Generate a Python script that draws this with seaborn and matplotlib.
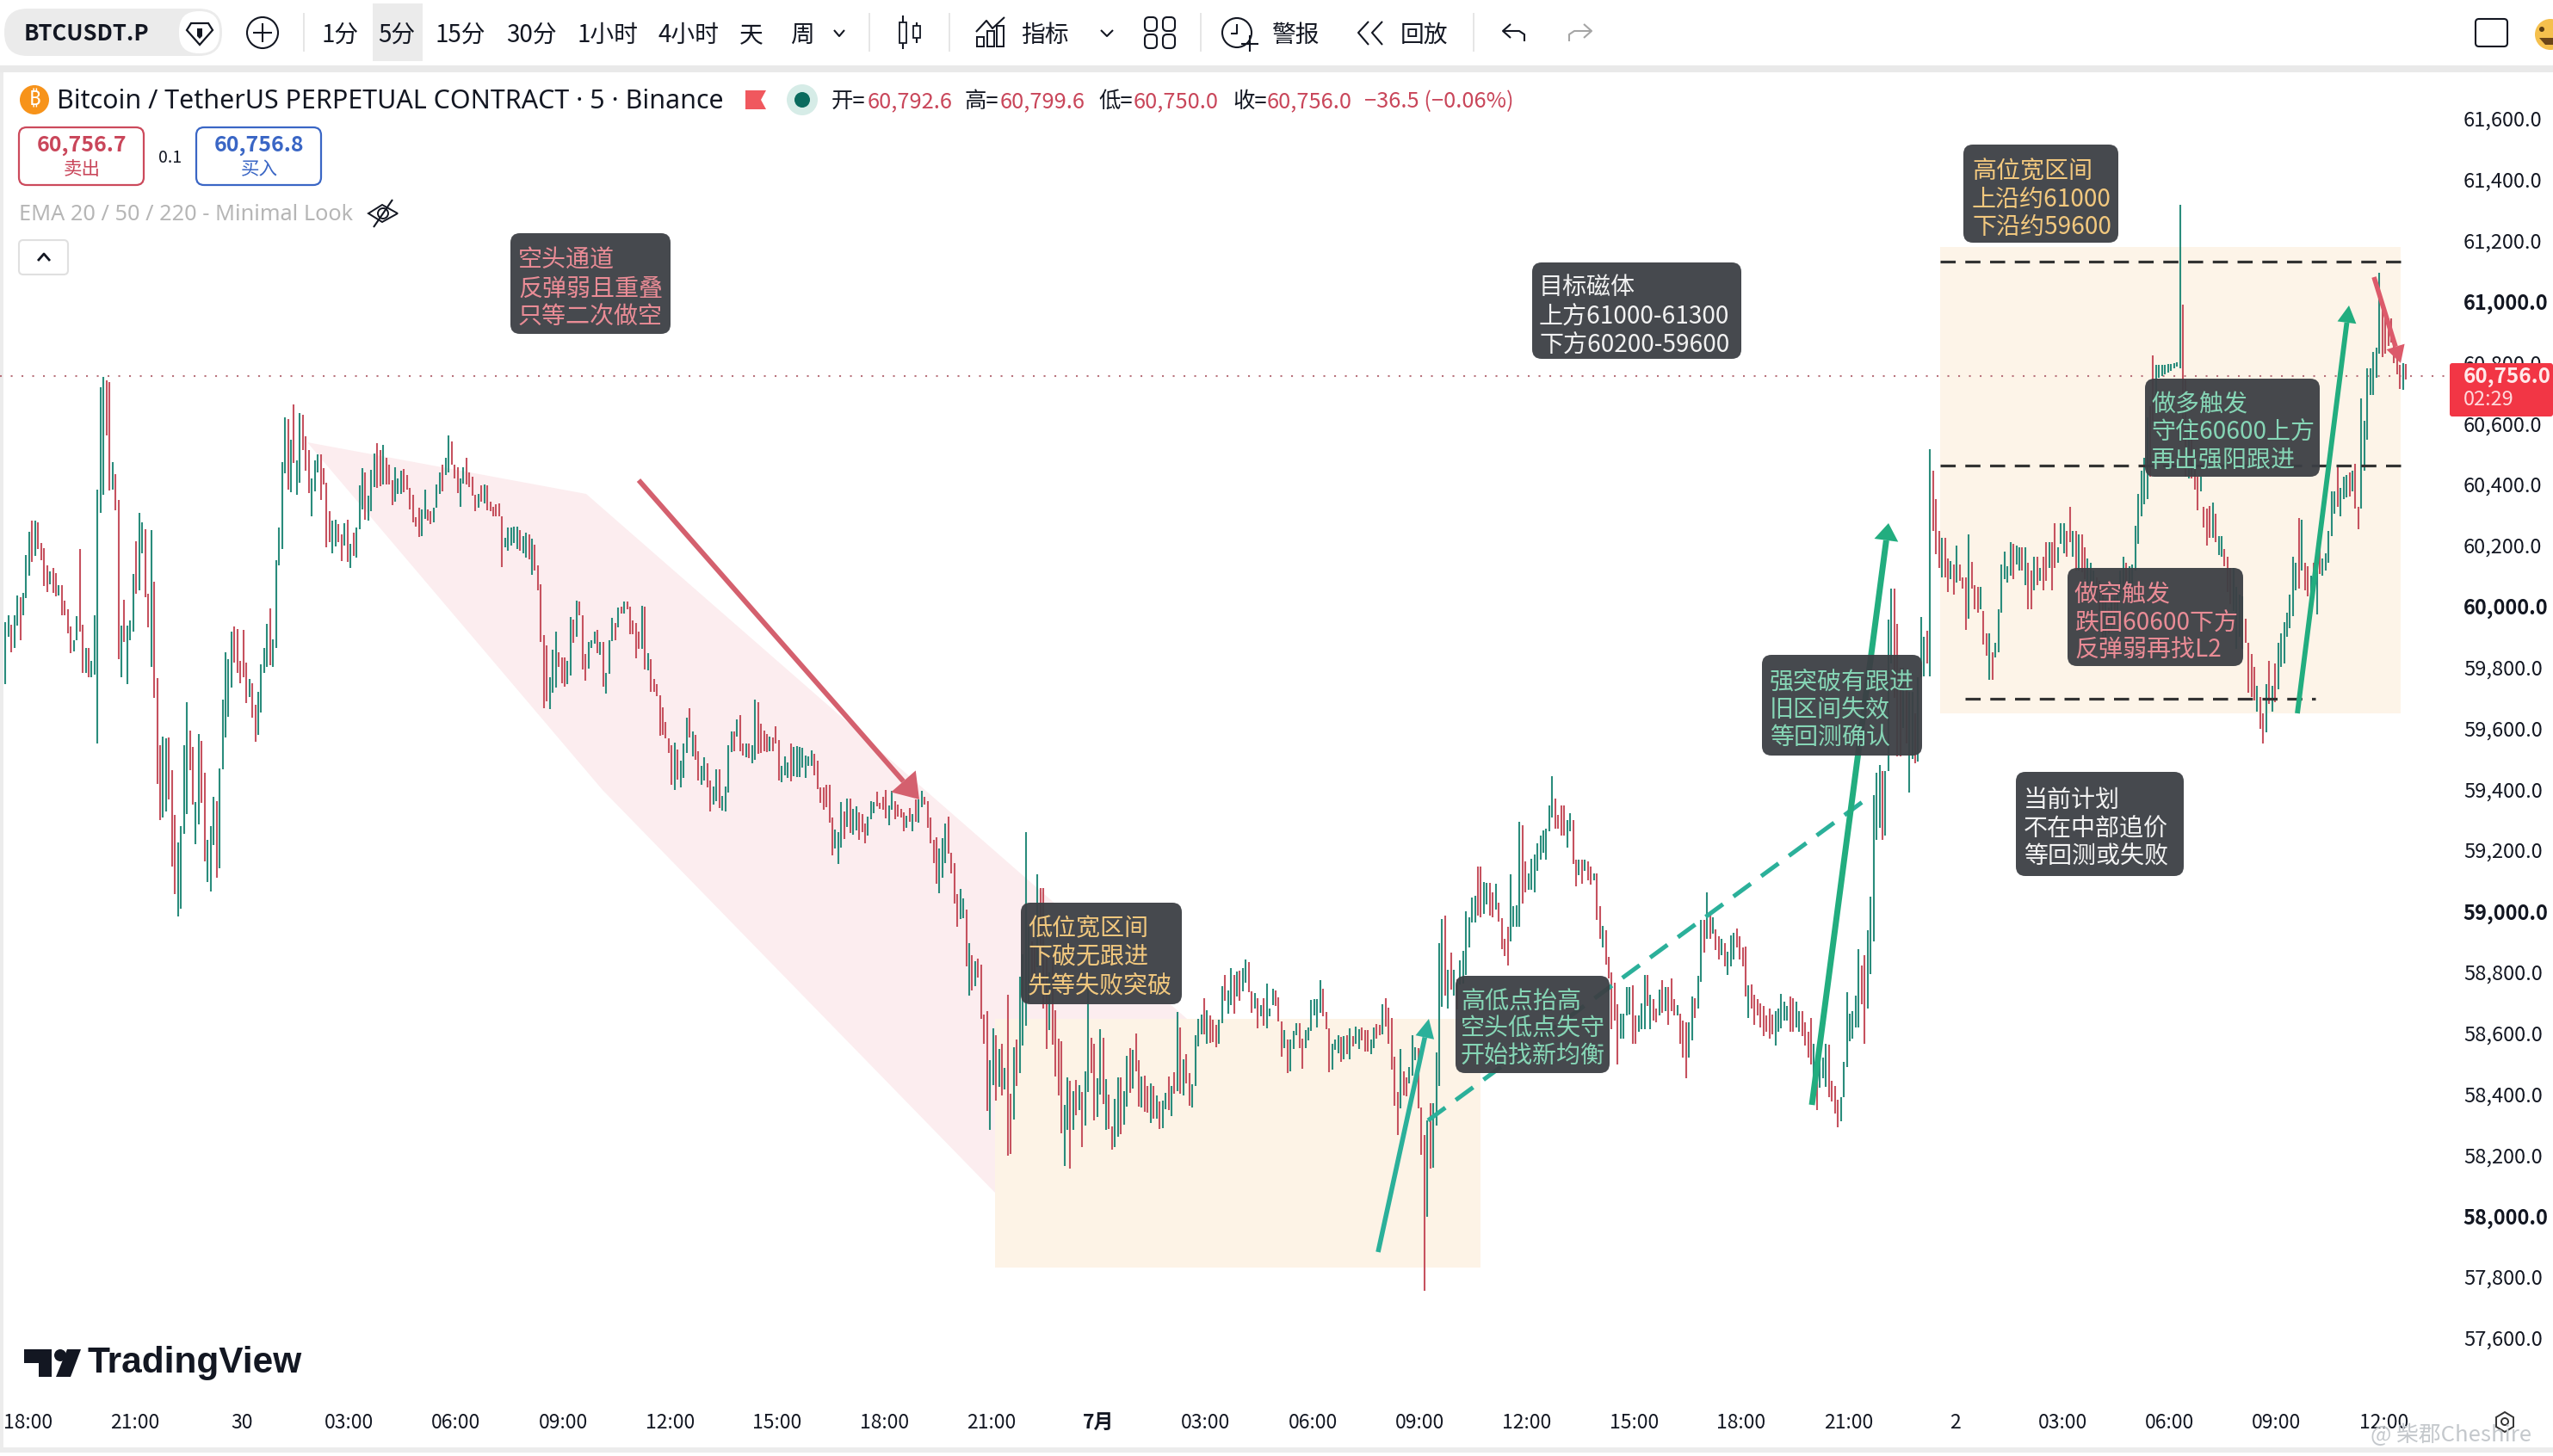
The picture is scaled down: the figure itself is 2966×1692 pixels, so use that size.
import numpy as np
import pandas as pd
import seaborn as sns
import matplotlib
matplotlib.use("Agg")
import matplotlib.pyplot as plt
from matplotlib.patches import FancyBboxPatch, Rectangle, Polygon, Circle
from matplotlib.transforms import Affine2D

highs = [
59947,59972,59941,59972,60035,60029,60044,60168,60246,60281,
60281,60277,60208,60190,60136,60115,60126,60108,60069,60069,
60019,59991,59935,59890,59969,60189,59941,59865,59863,59821,
59972,60382,60718,60754,60741,60735,60474,60435,60350,59937,
60023,59937,59954,60107,60214,60306,60275,60253,60042,60250,
60080,59764,59544,59572,59567,59569,59462,59317,59226,59279,
59544,59685,59592,59540,59357,59582,59559,59453,59235,59279,
59374,59361,59468,59693,59850,59827,59918,59935,59925,59821,
59922,59815,59761,59748,59676,59720,59811,59865,59943,59994,
59893,60151,60260,60473,60619,60615,60546,60663,60479,60634,
60630,60558,60514,60420,60479,60498,60498,60454,60407,60313,
60281,60284,60271,60237,60272,60285,60206,60243,60260,60398,
60454,60441,60363,60449,60502,60537,60514,60529,60489,60466,
60413,60457,60420,60445,60451,60432,60388,60366,60294,60325,
60319,60384,60319,60313,60325,60401,60441,60466,60489,60561,
60542,60466,60457,60420,60457,60489,60439,60426,60366,60369,
60398,60401,60398,60344,60328,60335,60338,60297,60224,60258,
60260,60262,60262,60250,60231,60243,60237,60222,60202,60136,
60073,59907,59872,59768,59859,59916,59849,59834,59834,59821,
59966,59957,60019,60017,59972,59843,59884,59890,59918,59922,
59884,59883,59783,59888,59962,59945,59996,60000,60016,60016,
60000,59953,59945,59916,60002,60000,59848,59827,59762,59746,
59708,59670,59621,59567,59546,59553,59530,59495,59551,59635,
59667,59589,59578,59524,59478,59505,59486,59429,59408,59465,
59465,59378,59409,59546,59589,59589,59630,59643,59551,59551,
59551,59546,59695,59686,59616,59594,59580,59573,59570,59608,
59562,59476,59508,59489,59551,59538,59543,59538,59535,59510,
59508,59528,59517,59494,59405,59405,59414,59414,59308,59267,
59260,59357,59327,59371,59371,59335,59344,59324,59319,59287,
59311,59362,59357,59391,59355,59376,59398,59348,59395,59362,
59351,59337,59324,59314,59338,59319,59368,59368,59395,59376,
59362,59308,59233,59243,59206,59240,59287,59310,59193,59157,
59056,59074,59041,59006,58895,58856,58837,58844,58825,58660,
58672,58512,58616,58592,58548,58564,58486,58726,58402,58554,
58578,58785,58860,59260,58950,58900,58880,59122,59075,59075,
58850,58800,58860,58675,58583,58573,58364,58456,58443,58411,
58446,58430,58407,58474,58745,58585,58564,58453,58613,58585,
58449,58399,58293,58385,58456,58456,58409,58526,58552,58545,
58599,58512,58458,58460,58427,58435,58427,58396,58376,58380,
58404,58458,58427,58473,58669,58620,58515,58531,58470,58432,
58592,58647,58661,58716,58675,58658,58644,58628,58644,58754,
58790,58740,58813,58790,58801,58804,58813,58843,58832,58738,
58731,58714,58691,58714,58763,58681,58745,58740,58717,58637,
58609,58578,58578,58606,58632,58632,58583,58611,58620,58708,
58712,58712,58773,58747,58669,58617,58564,58578,58592,58587,
58590,58594,58616,58590,58622,58614,58620,58609,58609,58580,
58618,58630,58627,58696,58714,58684,58649,58523,58406,58548,
58474,58456,58489,58594,58554,58550,58357,58267,58315,58369,
58369,58536,58895,58973,58985,58807,58863,58807,58776,58839,
58870,59000,58979,59044,59051,59147,59147,59096,59094,59094,
59061,59091,59028,58977,58910,58950,59122,59016,59019,59293,
59281,59163,59125,59173,59186,59224,59247,59265,59270,59346,
59443,59369,59316,59346,59346,59300,59323,59300,59170,59170,
59170,59170,59163,59147,59125,59125,59017,58953,58938,58849,
58800,58765,58696,58665,58665,58750,58750,58757,58658,58658,
58699,58791,58791,58727,58711,58681,58742,58773,58750,58750,
58780,58711,58693,58665,58642,58635,58635,58719,58715,58788,
58971,58971,59063,58994,58979,58940,58917,58910,58895,58867,
58922,58928,58944,58917,58880,58883,58757,58760,58727,58711,
58699,58688,58658,58681,58662,58673,58681,58730,58704,58689,
58719,58715,58704,58673,58673,58635,58604,58650,58566,58528,
58520,58520,58566,58561,58443,58428,58382,58390,58505,58734,
58665,58673,58722,58876,58821,58857,58938,59048,59382,59453,
59479,59461,59461,59958,60058,60058,59943,59800,59800,59750,
59721,59721,59650,59767,59966,59900,59920,60517,60444,60352,
60248,60224,60224,60156,60150,60138,60199,60138,60095,60095,
60236,60146,60071,60064,60064,59985,59911,59911,59850,59881,
59991,60138,60181,60132,60211,60205,60199,60193,60193,60193,
60144,60119,60162,60162,60126,60162,60211,60211,60211,60273,
60193,60273,60273,60248,60328,60248,60248,60236,60236,60193,
60156,60144,60119,60095,60083,60058,60022,59997,60022,60034,
60071,60119,60162,60144,60132,60137,60266,60370,60444,60487,
60621,60658,60823,60793,60793,60793,60793,60795,60796,60799,
60801,61319,60991,60744,60585,60572,60462,60426,60426,60328,
60321,60330,60340,60303,60230,60230,60187,60162,60126,60126,
60064,60040,60034,59960,59881,59844,59801,59740,59703,59648,
59746,59820,59740,59813,59881,59911,59948,59979,60040,60162,
60144,60291,60285,60144,60132,60100,60144,60119,60205,60156,
60175,60248,60377,60377,60462,60389,60426,60432,60440,60444,
60468,60328,60683,60609,60780,60780,60836,60850,61096,60989,
60952,60946,60946,60866,60842,60793,60799,60795]

lows = [
59746,59899,59850,59865,59937,59890,59972,60027,60102,60146,
60165,60187,60151,60067,60046,60073,60044,60033,60035,59972,
59970,59912,59846,59853,59890,59918,59781,59783,59767,59767,
59777,59550,60306,60366,60562,60379,60382,60316,59827,59768,
59884,59746,59890,59916,60042,60054,60174,60029,59931,59802,
59699,59418,59298,59307,59327,59368,59147,59056,58983,59008,
59254,59320,59462,59349,59219,59286,59355,59164,59097,59065,
59216,59109,59141,59466,59569,59639,59733,59815,59783,59749,
59768,59683,59702,59635,59557,59578,59651,59783,59802,59806,
59802,59865,60134,60189,60436,60382,60376,60470,60367,60407,
60514,60445,60373,60297,60378,60439,60350,60401,60195,60212,
60174,60197,60212,60149,60199,60146,60126,60165,60161,60252,
60319,60285,60281,60313,60391,60388,60394,60401,60401,60401,
60331,60344,60369,60369,60376,60382,60319,60275,60262,60228,
60231,60287,60281,60271,60275,60325,60369,60378,60432,60439,
60464,60420,60373,60328,60403,60401,60391,60363,60313,60325,
60344,60338,60315,60313,60297,60297,60296,60130,60193,60183,
60199,60209,60187,60184,60174,60161,60155,60105,60117,60054,
59884,59666,59689,59664,59718,59733,59802,59748,59736,59746,
59773,59882,59899,59970,59793,59756,59796,59865,59878,59846,
59840,59737,59715,59780,59886,59888,59931,59978,59978,59992,
59908,59908,59830,59862,59862,59794,59791,59721,59721,59706,
59575,59578,59567,59519,59416,59397,59432,59405,59438,59519,
59570,59508,59497,59429,59416,59430,59405,59328,59349,59362,
59338,59330,59328,59389,59522,59526,59573,59524,59510,59506,
59503,59484,59497,59516,59519,59524,59522,59524,59524,59549,
59430,59422,59446,59438,59427,59443,59441,59441,59470,59438,
59476,59478,59445,59400,59355,59333,59341,59290,59184,59206,
59154,59208,59236,59276,59257,59252,59265,59233,59260,59222,
59247,59303,59322,59344,59337,59333,59305,59281,59333,59303,
59311,59308,59262,59273,59292,59262,59294,59290,59341,59351,
59273,59222,59157,59090,59060,59110,59157,59190,59125,59026,
58950,58975,58977,58818,58722,58741,58754,58782,58646,58564,
58346,58282,58430,58380,58423,58397,58415,58197,58204,58317,
58427,58470,58559,58623,58700,58760,58780,58816,58840,58680,
58547,58611,58561,58458,58396,58270,58164,58282,58157,58282,
58330,58347,58225,58296,58407,58470,58315,58326,58399,58366,
58284,58286,58218,58225,58261,58269,58300,58359,58404,58418,
58475,58360,58355,58343,58338,58305,58319,58319,58286,58289,
58350,58349,58329,58402,58409,58402,58396,58435,58362,58355,
58427,58557,58597,58597,58564,58569,58570,58555,58564,58632,
58707,58663,58691,58665,58719,58707,58738,58766,58733,58667,
58680,58617,58656,58625,58617,58656,58691,58688,58637,58522,
58550,58468,58476,58547,58594,58550,58482,58552,58576,58606,
58658,58620,58667,58656,58614,58473,58479,58545,58534,58506,
58514,58531,58514,58557,58566,58547,58576,58540,58540,58531,
58550,58583,58592,58595,58622,58566,58479,58363,58265,58354,
58396,58393,58434,58460,58512,58352,58202,57756,57998,58157,
58159,58296,58427,58686,58722,58682,58743,58722,58677,58760,
58762,58790,58880,58963,58963,58985,58980,58990,59021,58985,
58980,59006,58965,58875,58854,58821,58900,58950,58950,58949,
59025,59063,59071,59071,59063,59132,59170,59193,59170,59262,
59308,59270,59270,59247,59247,59209,59262,59155,59082,59117,
59091,59132,59101,59086,59101,58972,58910,58880,58826,58780,
58612,58640,58497,58581,58581,58658,58660,58566,58566,58604,
58612,58612,58689,58612,58642,58635,58658,58666,58673,58627,
58673,58658,58658,58566,58520,58451,58520,58577,58650,58681,
58768,58864,58910,58910,58925,58872,58842,58857,58819,58791,
58819,58842,58880,58842,58819,58719,58650,58681,58627,58658,
58620,58589,58604,58581,58597,58558,58604,58617,58642,58642,
58604,58604,58620,58604,58589,58558,58520,58497,58421,58347,
58421,58451,58424,58390,58375,58337,58291,58311,58390,58490,
58574,58581,58620,58620,58696,58566,58681,58795,58902,59235,
59275,59235,59247,59461,59813,59700,59507,59507,59600,59550,
59388,59500,59484,59492,59767,59770,59813,59771,60248,60171,
60126,60095,60095,60046,60089,60040,60077,60083,60058,59924,
59960,60058,59991,59979,59991,59875,59838,59758,59758,59832,
59850,59979,60089,60077,60101,60089,60138,60119,60119,60071,
59991,59991,60052,60071,60083,60052,60083,60126,60052,60126,
60144,60205,60175,60162,60211,60162,60119,60119,60113,60089,
60071,60058,60071,60022,59985,59887,59899,59911,59924,59948,
59985,60034,60046,60058,60071,60058,60119,60205,60297,60334,
60352,60425,60609,60683,60750,60756,60762,60768,60774,60780,
60787,60780,60585,60426,60419,60419,60383,60315,60377,60260,
60199,60225,60224,60211,60168,60162,60132,60046,60009,59985,
59862,59900,59862,59881,59716,59703,59691,59654,59599,59550,
59587,59679,59654,59685,59728,59801,59813,59899,59930,59967,
60052,60058,60119,60052,60034,60040,60052,59973,60107,60101,
60119,60144,60230,60303,60328,60297,60352,60358,60360,60377,
60322,60254,60322,60444,60548,60695,60695,60750,60829,60817,
60829,60854,60866,60799,60762,60713,60710,60744]

sides = (
"ggrggrgggr" "grrrrgrrgr" "rrrggrrgrg" "ggggrrgrrg" "rgggrggrrg" "rrrggrrrgg" "ggrrggrrgg" "grgggggrrr"
"rrgrrggggr" "gggggrgrgg" "rrrgggrrrr" "ggrrgrgrgg" "grgggrrgrr" "rgggrrrrrr" "ggrrgggrgg" "rrrggrrrrg"
"rgrrrrrrgg" "gggrggrgrr" "rrrgggrrrg" "grgrrrgggr" "grgggrgrgr" "rrrrgrgrrr" "rrrrrgrggg" "rgrrggrrgg"
"rggggrgrrg" "rggrrrrgrr" "rgggrggggg" "ggrrrrrrrg" "ggrgrggrrr" "gggrrrrggr" "rrrgrgrggr" "rrrrgggrrr"
"rggrgrgrrr" "rggrgrgrrg" "rggggrrgrr" "rgrrrrggrg" "rgrggrrggr" "grrggrggrg" "rrgrrgrgrg" "grgrgrgrrg"
"gggrgrrrgg" "rggrgrggrr" "grgrgggrrr" "grgggrrggg" "gggrrrgggr" "grgrggrrrg" "grrgrrrrrg" "rrgggrrrgr"
"ggggrgrgrg" "gggggrrggr" "rgrrrrgggg" "rrgggggggg" "grrrrggrrg" "rgrrgrrgrr" "rrrggggrrg" "ggrgrrgrgr"
"rrgrrrggrg" "grgrgrrgrg" "ggrrrrgrrr" "rrrrrggggg" "rrggrrrrgr" "gggrrrrggg" "ggggrrgggg" "grgggrrrgr"
"ggrgggrgrr" "rgrrgrgrrr" "grrrgrrgrg" "gggggrggrg" "rrgrgrrgrr" "gggrrgrgrr" "gggrrrgrgr" "gggrgggggg"
"grrggggggg" "ggrrgrrrgr" "rrgrggrrrg" "gggrrrrgrr" "grgrgggggg" "grgrrgrgrg" "ggggrgggrg" "rrgggggggr"
"rrrrrrgr")

price_ticks = [57600 + 200 * i for i in range(21)]
bold_prices = [58000, 59000, 60000, 61000]
time_labels = ["18:00", "21:00", "30", "03:00", "06:00", "09:00", "12:00", "15:00", "18:00", "21:00", "7月",
               "03:00", "06:00", "09:00", "12:00", "15:00", "18:00", "21:00", "2", "03:00", "06:00", "09:00", "12:00"]
last_price = 60756.0

UP, DOWN = "#2a8c7c", "#c6525f"
CJK = ["Noto Sans CJK SC", "DejaVu Sans"]

sns.set_theme(style="white")
plt.rcParams["font.family"] = CJK

n = min(len(highs), len(lows), len(sides))
df = pd.DataFrame({"k": np.arange(n), "high": highs[:n], "low": lows[:n], "side": list(sides[:n])})
long = df.melt(id_vars=["k", "side"], value_vars=["high", "low"], value_name="price")

W, H = 2966, 1692
fig, ax = plt.subplots(figsize=(W / 100, H / 100), dpi=100)
ax.set_position([0, 0, 1, 1])
sns.lineplot(data=long, x="k", y="price", hue="side", units="k", estimator=None, sort=False,
             palette={"g": UP, "r": DOWN}, lw=1.5, legend=False, ax=ax, zorder=3, solid_capstyle="butt")

tr = Affine2D().scale(1, -1).translate(0, H)  # page pixels, for the interface around the chart


def rect(x0, y0, x1, y1, fc, z=1, ec="none", lw=0):
    ax.add_patch(Rectangle((x0, y0), x1 - x0, y1 - y0, fc=fc, ec=ec, lw=lw, transform=tr, zorder=z, clip_on=False))


def rbox(x0, y0, x1, y1, fc, ec="none", lw=0, r=8, z=5, alpha=1):
    ax.add_patch(FancyBboxPatch((x0 + r, y0 + r), x1 - x0 - 2 * r, y1 - y0 - 2 * r, boxstyle=f"round,pad={r},rounding_size={r}",
                                fc=fc, ec=ec, lw=lw, transform=tr, zorder=z, alpha=alpha, clip_on=False))


def txt(x, y, s, size=17, color="#131722", ha="left", weight="normal", z=8, family=CJK):
    ax.text(x, y, s, fontsize=size, color=color, ha=ha, va="center", fontweight=weight, transform=tr, zorder=z,
            family=family)


def line(xs, ys, color="#131722", lw=1.5, z=8, ls="-", cap="butt", **kw):
    ax.plot(xs, ys, color=color, lw=lw, transform=tr, zorder=z, ls=ls, solid_capstyle=cap, clip_on=False, **kw)


def poly(pts, fc, z=1, ec="none", lw=0):
    ax.add_patch(Polygon(pts, closed=True, fc=fc, ec=ec, lw=lw, transform=tr, zorder=z, clip_on=False))


def circ(x, y, r, fc="none", ec="none", lw=0, z=8):
    ax.add_patch(Circle((x, y), r, fc=fc, ec=ec, lw=lw, transform=tr, zorder=z, clip_on=False))


def arrow(x0, y0, x1, y1, color, lw=4.0, hw=11, hl=20, z=4):
    d = np.array([x1 - x0, y1 - y0], float)
    d /= np.hypot(*d)
    p = np.array([-d[1], d[0]])
    tip = np.array([x1, y1], float)
    base = tip - d * hl
    line([x0, base[0]], [y0, base[1]], color, lw, z)
    poly([tip, base + p * hw, base - p * hw], color, z)


def note(x0, y0, x1, y1, lines, color, tx, ys):
    rbox(x0, y0, x1, y1, "#3c3f44", r=11, z=5, alpha=0.95)
    for y, s in zip(ys, lines):
        txt(tx, y + 2.5, s, 20.2, color, z=6)


# zones
poly([(357, 514), (681, 574), (1379, 1184), (1156, 1386), (700, 918)], "#fcedef", z=1)
rect(1156, 1184, 1720, 1473, "#fdf3e6", z=1.5)
rect(2254, 287, 2789, 829, "#fdf4e8", z=1.5)

# level lines
for y, x0, x1 in [(304, 2254, 2789), (541, 2254, 2789), (812, 2283, 2690)]:
    line([x0, x1], [y, y], "#333333", 2.3, z=4, ls=(0, (5.5, 3.5)))
ax.axhline(last_price, color="#b9737c", lw=1.5, ls=(0, (1, 5)), zorder=2)

# arrows
arrow(742, 558, 1068, 929, "#d4606e", lw=4.2, hw=19, hl=28)
arrow(1601, 1455, 1660, 1184, "#2bb09a", lw=4.0, hw=11, hl=22)
line([1659, 2165], [1302, 931], "#2bb09a", 3.6, z=4, ls=(0, (5, 3)))
arrow(2105, 1284, 2194, 608, "#22ad7f", lw=5.0, hw=14, hl=20)
arrow(2669, 829, 2729, 355, "#22ad7f", lw=4.2, hw=11, hl=20)
arrow(2758, 322, 2789, 422, "#dc5a6a", lw=4.0, hw=11, hl=20)

# notes
PINK, GOLD, MINT, PALE = "#ea8c96", "#f2c87e", "#86d6b6", "#f2f2f2"
note(593, 271, 779, 388, ["空头通道", "反弹弱且重叠", "只等二次做空"], PINK, 602, [299, 333, 365])
note(1780, 305, 2023, 417, ["目标磁体", "上方61000-61300", "下方60200-59600"], PALE, 1788, [331, 365, 398])
note(2281, 168, 2461, 282, ["高位宽区间", "上沿约61000", "下沿约59600"], GOLD, 2291, [197, 229, 261])
note(1186, 1049, 1373, 1167, ["低位宽区间", "下破无跟进", "先等失败突破"], GOLD, 1194, [1077, 1110, 1143])
note(1691, 1134, 1870, 1247, ["高低点抬高", "空头低点失守", "开始找新均衡"], MINT, 1697, [1162, 1193, 1225])
note(2047, 761, 2233, 878, ["强突破有跟进", "旧区间失效", "等回测确认"], MINT, 2056, [790, 823, 855])
note(2492, 440, 2695, 554, ["做多触发", "守住60600上方", "再出强阳跟进"], MINT, 2499, [468, 499, 532])
note(2402, 660, 2606, 774, ["做空触发", "跌回60600下方", "反弹弱再找L2"], PINK, 2410, [689, 721, 752])
note(2342, 897, 2537, 1018, ["当前计划", "不在中部追价", "等回测或失败"], PALE, 2351, [927, 961, 993])

# page frame
rect(0, 76, W, 84, "#e9e9e9", z=0.5)
rect(0, 84, 4, 1682, "#ececec", z=0.5)
rect(0, 1682, W, 1688, "#ececec", z=0.5)

# toolbar
rbox(5, 10, 258, 65, "#ebebeb", r=27, z=7)
rbox(208, 13, 255, 62, "#ffffff", r=23, z=7.5)
txt(28, 39, "BTCUSDT.P", 18.5, weight="bold")
poly([(222, 27), (242, 27), (247, 35), (232, 52), (217, 35)], "none", z=8, ec="#131722", lw=1.6)
poly([(229, 33), (235, 33), (235, 42), (232, 45), (229, 42)], "#131722", z=8)
circ(305, 38, 18, ec="#131722", lw=1.5)
line([294, 316], [38, 38]); line([305, 305], [27, 49])
rect(352, 15, 354, 60, "#e6e6e6", z=2)
rect(433, 4, 491, 71, "#ebebeb", z=2)
for cx, s in [(395, "1分"), (461, "5分"), (535, "15分"), (617, "30分"), (706, "1小时"), (800, "4小时"), (873, "天"), (932, "周")]:
    txt(cx, 41, s, 20, ha="center")
line([969, 975, 981], [35, 42, 35])
for x in [1010, 1103, 1395, 1712]:
    rect(x - 1, 15, x + 1, 60, "#e6e6e6", z=2)
line([1049, 1049], [18, 57]); rect(1045, 26, 1053, 50, "white", z=8, ec="#131722", lw=1.3)
line([1065, 1065], [26, 50]); rect(1061, 30, 1069, 44, "white", z=8, ec="#131722", lw=1.3)
line([1134, 1146, 1153, 1167], [37, 24, 33, 20])
for x0, y0 in [(1135, 43), (1147, 36), (1158, 30)]:
    rect(x0, y0, x0 + 8, 54, "none", z=8, ec="#131722", lw=1.4)
txt(1186, 41, "指标", 20)
line([1279, 1286, 1293], [35, 42, 35])
for cx, cy in [(1337, 28), (1358, 28), (1337, 48), (1358, 48)]:
    rbox(cx - 7, cy - 8, cx + 7, cy + 8, "none", ec="#131722", lw=1.5, r=5, z=8)
circ(1437, 38, 17, ec="#131722", lw=1.5)
line([1437, 1437, 1430], [28, 39, 39]); line([1442, 1462], [51, 51]); line([1452, 1452], [41, 60])
txt(1477, 41, "警报", 20)
line([1590, 1578, 1590], [25, 38, 52]); line([1606, 1594, 1606], [25, 38, 52])
txt(1627, 41, "回放", 20)
line([1771, 1771, 1765, 1747], [48, 40, 36, 36]); line([1755, 1746, 1755], [28, 36, 44])
line([1823, 1823, 1829, 1848], [48, 40, 36, 36], "#a5a5a5"); line([1840, 1849, 1840], [28, 36, 44], "#a5a5a5")
rbox(2876, 22, 2913, 54, "none", ec="#131722", lw=1.5, r=4, z=8)
circ(2963, 40, 18, fc="#f5c04d")
circ(2953, 34, 3, fc="#5a3d14", z=9)
poly([(2950, 44), (2966, 44), (2966, 52), (2957, 52)], "#6b4518", z=9)

# legend row
circ(40, 116, 17, fc="#f7931a")
txt(40, 116, "₿", 17, "white", ha="center", weight="bold", z=9, family=["Noto Sans", "Roboto", "Inter", "Open Sans", "Lato", "Liberation Sans"])
txt(66, 118, "Bitcoin / TetherUS PERPETUAL CONTRACT · 5 · Binance", 21.9, family=["Noto Sans", "DejaVu Sans"])
poly([(866, 105), (890, 105), (884, 116), (890, 127), (866, 127)], "#f0585e")
circ(932, 116, 18, fc="#d6ece7"); circ(932, 116, 9, fc="#0b6b5e", z=9)
RED = "#c9465a"
for x, s, c in [(966, "开=", "#131722"), (1008, "60,792.6", RED), (1121, "高=", "#131722"), (1162, "60,799.6", RED),
                (1276, "低=", "#131722"), (1317, "60,750.0", RED), (1432, "收=", "#131722"), (1472, "60,756.0", RED),
                (1585, "−36.5 (−0.06%)", RED)]:
    txt(x, 118, s, 18.3, c)

# order buttons
rbox(22, 148, 167, 215, "white", ec="#cc4a5c", lw=1.6, r=9, z=7)
rbox(228, 148, 373, 215, "white", ec="#3a66c5", lw=1.6, r=9, z=7)
txt(95, 169, "60,756.7", 18, RED, ha="center", weight="bold")
txt(95, 197, "卖出", 15.5, RED, ha="center")
txt(301, 169, "60,756.8", 18, "#3a66c5", ha="center", weight="bold")
txt(301, 197, "买入", 15.5, "#3a66c5", ha="center")
txt(198, 183, "0.1", 14, ha="center")
txt(22, 249, "EMA 20 / 50 / 220 - Minimal Look", 18.2, "#b6b6b6", family=["Noto Sans", "DejaVu Sans"])
poly([(428, 248), (444, 238), (462, 248), (444, 258)], "none", z=8, ec="#131722", lw=1.4)
circ(445, 248, 6, ec="#131722", lw=1.4)
line([434, 456], [264, 232])
rbox(22, 279, 79, 319, "white", ec="#e0e0e0", lw=1.5, r=5, z=7)
line([44, 51, 58], [303, 295, 303], lw=2)

# logo and footer
poly([(28, 1568), (60, 1568), (60, 1600), (45, 1600), (45, 1584), (28, 1584)], "#131722")
circ(70, 1575, 7, fc="#131722")
poly([(78, 1568), (94, 1568), (82, 1600), (65, 1600)], "#131722")
txt(102, 1584, "TradingView", 30.5, weight="bold", family=["Liberation Sans", "DejaVu Sans"])
poly([(2910, 1641), (2920, 1647), (2920, 1658), (2910, 1664), (2900, 1658), (2900, 1647)], "none", z=8, ec="#333333", lw=1.4)
circ(2910, 1652, 4, ec="#333333", lw=1.4)
txt(2754, 1668, "@ 柴郡Cheshire", 18.5, "#c4c8cc", z=9)

# current price tag
rbox(2846, 422, 2966, 484, "#f23645", r=3, z=7)
txt(2862, 438, "60,756.0", 17.5, "#ffe9ea", z=9, weight="bold")
txt(2862, 464, "02:29", 17, "#ffd9dc", z=9)

# scales: one candle is 3.456 px, first candle at 6.25 px; 200 price points are 70.84 px
ax.set_xlim((0 - 6.25) / 3.456, (W - 6.25) / 3.456)
ax.set_ylim(61600 - (H - 138) * 200 / 70.84, 61600 + 138 * 200 / 70.84)
ax.set_xlabel(""); ax.set_ylabel("")
for s in ax.spines.values():
    s.set_visible(False)
ax.yaxis.tick_right()
ax.set_yticks(price_ticks)
ax.set_yticklabels([f"{p:,.1f}" for p in price_ticks], fontsize=17, color="#131722")
for lab, p in zip(ax.get_yticklabels(), price_ticks):
    if p in bold_prices:
        lab.set_fontweight("bold")
ax.tick_params(axis="y", length=0, pad=-75)
ax.set_xticks([7.5 + 36 * i for i in range(len(time_labels))])
ax.set_xticklabels(time_labels, fontsize=16.5, color="#131722")
for lab, s in zip(ax.get_xticklabels(), time_labels):
    if s == "7月":
        lab.set_fontweight("bold")
ax.tick_params(axis="x", length=0, pad=-36)
ax.set_facecolor("white")
fig.patch.set_facecolor("white")
fig.savefig("out.png", dpi=100, facecolor="white")
